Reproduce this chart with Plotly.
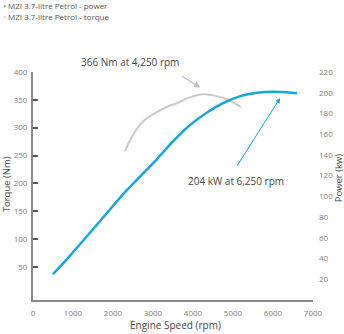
import plotly.graph_objects as go

# ---- data ----
rpm_power = [500, 850, 1850, 2250, 2650, 3100, 3500, 3900, 4350, 4750, 5200, 5600, 6000, 6350, 6600]
power_kw = [25, 39.5, 84, 102, 118, 136, 153, 168, 181, 190, 197, 200, 201, 200.5, 199.5]

rpm_torque = [2300, 2500, 2750, 3100, 3400, 3600, 3900, 4250, 4500, 4850, 5200]
torque_nm = [258, 287, 311, 328, 339, 344, 354, 360, 358, 351, 337]

x_ticks = [0, 1000, 2000, 3000, 4000, 5000, 6000, 7000]
x_minor = [1000, 2000, 3000, 4000, 5000, 6000]
torque_ticks = [50, 100, 150, 200, 250, 300, 350, 400]
power_ticks = [20, 40, 60, 80, 100, 120, 140, 160, 180, 200, 220]

BLUE = "#12a5e3"
GREY = "#c9c9c9"
AX = "#8a8a8a"
TXT = "#444444"
TICKTXT = "#808080"
FONT = "Open Sans"

fig = go.Figure()
fig.add_trace(go.Scatter(x=rpm_torque, y=torque_nm, mode="lines", line=dict(color=GREY, width=2, shape="spline"),
                         name="MZI 3.7-litre Petrol - torque", xaxis="x", yaxis="y"))
fig.add_trace(go.Scatter(x=rpm_power, y=power_kw, mode="lines", line=dict(color=BLUE, width=2.5, shape="spline"),
                         name="MZI 3.7-litre Petrol - power", xaxis="x", yaxis="y2"))

yr = [-9.5, 400]
fig.update_layout(
    width=344, height=334, margin=dict(l=33, r=31, t=72, b=33.5),
    paper_bgcolor="white", plot_bgcolor="white", showlegend=False,
    font=dict(family=FONT, size=8, color=TICKTXT),
    xaxis=dict(range=[0, 7000], tickvals=x_ticks, ticks="", showgrid=False, zeroline=False,
               showline=True, linecolor=AX, linewidth=2, tickfont=dict(size=8, color=TICKTXT),
               ticklabelstandoff=4),
    xaxis2=dict(overlaying="x", anchor="y", side="bottom", range=[0, 7000], tickvals=x_minor,
                ticks="outside", ticklen=4, tickwidth=1, tickcolor="#333", showticklabels=False,
                showgrid=False, zeroline=False, showline=False),
    xaxis3=dict(overlaying="x", anchor="y", side="bottom", range=[0, 7000], tickvals=x_minor,
                ticks="inside", ticklen=3, tickwidth=1, tickcolor="#333", showticklabels=False,
                showgrid=False, zeroline=False, showline=False),
    yaxis=dict(range=yr, tickvals=torque_ticks, ticks="inside", ticklen=5, tickwidth=1.5, tickcolor="#555",
               showgrid=False, zeroline=False, showline=True, linecolor=AX, linewidth=2,
               tickfont=dict(size=8, color=TICKTXT), ticklabelstandoff=2),
    yaxis2=dict(overlaying="y", side="right", anchor="x", range=[0, 220], tickvals=power_ticks,
                ticks="", showgrid=False, zeroline=False, showline=False,
                tickfont=dict(size=8, color=TICKTXT), ticklabelstandoff=5),
    yaxis3=dict(overlaying="y", side="right", anchor="x", range=yr, tickvals=torque_ticks,
                ticks="inside", ticklen=6, tickwidth=1.5, tickcolor="#555", showticklabels=False,
                showgrid=False, zeroline=False, showline=True, linecolor="#555", linewidth=1.5),
)

W, H = 280, 228.5


def px(x):
    return (x - 33) / W


def py(y):
    return (300.5 - y) / H


ann = []
# legend as text
ann.append(dict(xref="paper", yref="paper", x=px(1), y=py(5), xanchor="left", yanchor="middle",
                text=f"<span style='color:{BLUE}'>•</span> MZI 3.7-litre Petrol - power",
                showarrow=False, font=dict(size=8, color="#555", family=FONT)))
ann.append(dict(xref="paper", yref="paper", x=px(1), y=py(16), xanchor="left", yanchor="middle",
                text=f"<span style='color:{GREY}'>•</span> MZI 3.7-litre Petrol - torque",
                showarrow=False, font=dict(size=8, color="#555", family=FONT)))
# axis titles
ann.append(dict(xref="paper", yref="paper", x=px(6.5), y=py(185), textangle=-90, xanchor="center", yanchor="middle",
                text="Torque (Nm)", showarrow=False, font=dict(size=9.5, color=TXT, family=FONT)))
ann.append(dict(xref="paper", yref="paper", x=px(338.5), y=py(178), textangle=-90, xanchor="center", yanchor="middle",
                text="Power (kw)", showarrow=False, font=dict(size=9.5, color=TXT, family=FONT)))
ann.append(dict(xref="paper", yref="paper", x=px(175), y=py(326), xanchor="center", yanchor="middle",
                text="Engine Speed (rpm)", showarrow=False, font=dict(size=10, color=TXT, family=FONT)))
# callouts
ann.append(dict(xref="paper", yref="paper", x=px(79), y=py(62), text="366 Nm at 4,250 rpm", showarrow=False,
                xanchor="left", yanchor="middle", font=dict(size=10, color=TXT, family=FONT)))
ann.append(dict(xref="x", yref="y", x=4175, y=372, ax=3692, ay=394, axref="x", ayref="y", text="",
                showarrow=True, arrowhead=2, arrowsize=1, arrowwidth=1.2, arrowcolor="#bbbbbb"))
ann.append(dict(xref="paper", yref="paper", x=px(186), y=py(181), text="204 kW at 6,250 rpm", showarrow=False,
                xanchor="left", yanchor="middle", font=dict(size=10, color=TXT, family=FONT)))
ann.append(dict(xref="x", yref="y2", x=6180, y=195, ax=5078, ay=128, axref="x", ayref="y2", text="",
                showarrow=True, arrowhead=2, arrowsize=1, arrowwidth=1, arrowcolor=BLUE))
fig.update_layout(annotations=ann)

fig.write_html("out.html")
